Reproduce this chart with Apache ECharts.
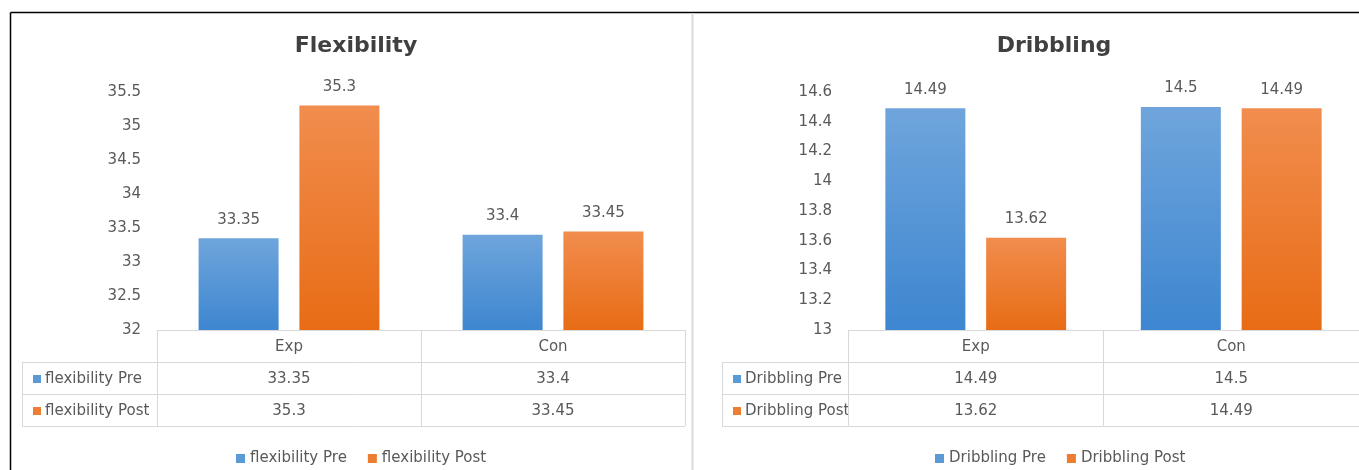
<!DOCTYPE html>
<html>
<head>
<meta charset="utf-8">
<script src="https://cdn.jsdelivr.net/npm/echarts@6/dist/echarts.min.js"></script>
<style>
html,body{margin:0;padding:0;background:#fff;}
#c{width:1359px;height:470px;}
</style>
</head>
<body>
<div id="c"></div>
<script>
// ---- data ----
const categories = ['Exp', 'Con'];
const flexNames = ['flexibility Pre', 'flexibility Post'];
const flexPre = [33.35, 33.4];
const flexPost = [35.3, 33.45];
const dribNames = ['Dribbling Pre', 'Dribbling Post'];
const dribPre = [14.49, 14.5];
const dribPost = [13.62, 14.49];
const flexAxis = { min: 32, max: 35.5, interval: 0.5 };
const dribAxis = { min: 13, max: 14.6, interval: 0.2 };
const titles = ['Flexibility', 'Dribbling'];

// ---- style / layout ----
const FONT = 'DejaVu Sans';
const TXT = '#595959';
const LINE = '#d9d9d9';
const BLUE = '#5b9bd5', ORANGE = '#ed7d31';
const blueGrad = new echarts.graphic.LinearGradient(0, 0, 0, 1, [{offset: 0, color: '#6fa5dc'}, {offset: 1, color: '#3d86d0'}]);
const orangeGrad = new echarts.graphic.LinearGradient(0, 0, 0, 1, [{offset: 0, color: '#f18d4e'}, {offset: 1, color: '#e86c15'}]);

const panels = [
  { left: 157, width: 528, labelLeft: 22, titleX: 351, legendLeft: 231, names: flexNames, pre: flexPre, post: flexPost, axis: flexAxis },
  { left: 848, width: 518, labelLeft: 722, titleX: 1049, legendLeft: 930, names: dribNames, pre: dribPre, post: dribPost, axis: dribAxis }
];
const TOP = 92, BOTTOM_Y = 330, ROW = 32;

const chart = echarts.init(document.getElementById('c'), null, { renderer: 'canvas' });

const grid = [], xAxis = [], yAxis = [], series = [], title = [], legend = [], graphic = [];

// frame
graphic.push({ type: 'line', shape: { x1: 10.5, y1: 12.5, x2: 1359, y2: 12.5 }, style: { stroke: '#000', lineWidth: 1.5 } });
graphic.push({ type: 'line', shape: { x1: 10.5, y1: 12.5, x2: 10.5, y2: 470 }, style: { stroke: '#000', lineWidth: 1.5 } });
graphic.push({ type: 'line', shape: { x1: 692.5, y1: 13, x2: 692.5, y2: 470 }, style: { stroke: LINE, lineWidth: 2 } });

panels.forEach((p, pi) => {
  grid.push({ left: p.left, top: TOP, width: p.width, height: BOTTOM_Y - TOP });
  const base = xAxis.length;
  xAxis.push({
    type: 'category', gridIndex: pi, data: categories, position: 'bottom',
    axisLine: { show: true, lineStyle: { color: LINE, width: 1 } },
    axisTick: { show: true, length: ROW * 3, lineStyle: { color: LINE, width: 1 } },
    axisLabel: { color: TXT, fontFamily: FONT, fontSize: 15, margin: 10 },
    splitLine: { show: false }
  });
  [p.pre, p.post].forEach((vals, ri) => {
    xAxis.push({
      type: 'category', gridIndex: pi, data: categories, position: 'bottom', offset: ROW * (ri + 1),
      axisLine: { show: false }, axisTick: { show: false }, splitLine: { show: false },
      axisLabel: { color: TXT, fontFamily: FONT, fontSize: 15, margin: 10, formatter: (v, i) => String(vals[i]) }
    });
  });
  yAxis.push({
    type: 'value', gridIndex: pi, min: p.axis.min, max: p.axis.max, interval: p.axis.interval,
    axisLine: { show: false }, axisTick: { show: false }, splitLine: { show: false },
    axisLabel: { color: TXT, fontFamily: FONT, fontSize: 15, margin: 16 }
  });
  [p.pre, p.post].forEach((vals, si) => {
    series.push({
      type: 'bar', name: p.names[si], xAxisIndex: base, yAxisIndex: pi,
      data: vals, barWidth: 80, barGap: '26%',
      itemStyle: { color: si === 0 ? blueGrad : orangeGrad },
      label: { show: true, position: 'top', distance: 11, color: TXT, fontFamily: FONT, fontSize: 15 }
    });
  });
  title.push({
    text: titles[pi], left: p.titleX, top: 30, textAlign: 'center',
    textStyle: { fontFamily: FONT, fontWeight: 'bold', fontSize: 22, color: '#404040' }
  });
  legend.push({
    left: p.legendLeft, top: 446, icon: 'rect', itemWidth: 9, itemHeight: 9, itemGap: 21,
    textStyle: { color: TXT, fontFamily: FONT, fontSize: 15 },
    data: [{ name: p.names[0], itemStyle: { color: BLUE } }, { name: p.names[1], itemStyle: { color: ORANGE } }]
  });
  // table lines
  const right = p.left + p.width;
  [1, 2, 3].forEach(k => {
    const y = BOTTOM_Y + ROW * k + 0.5;
    graphic.push({ type: 'line', shape: { x1: p.labelLeft, y1: y, x2: right, y2: y }, style: { stroke: LINE, lineWidth: 1 } });
  });
  graphic.push({ type: 'line', shape: { x1: p.labelLeft + 0.5, y1: BOTTOM_Y + ROW, x2: p.labelLeft + 0.5, y2: BOTTOM_Y + ROW * 3 }, style: { stroke: LINE, lineWidth: 1 } });
  // row labels
  p.names.forEach((nm, ri) => {
    const cy = BOTTOM_Y + ROW * (ri + 1) + ROW / 2 + 1;
    graphic.push({ type: 'rect', shape: { x: p.labelLeft + 11, y: cy - 4, width: 8, height: 8 }, style: { fill: ri === 0 ? BLUE : ORANGE } });
    graphic.push({ type: 'text', x: p.labelLeft + 23, y: cy, style: { text: nm, fill: TXT, font: '15px "DejaVu Sans"', textVerticalAlign: 'middle', verticalAlign: 'middle' } });
  });
});

chart.setOption({
  backgroundColor: '#fff',
  animation: false,
  title, legend, grid, xAxis, yAxis, series, graphic
});
</script>
</body>
</html>
